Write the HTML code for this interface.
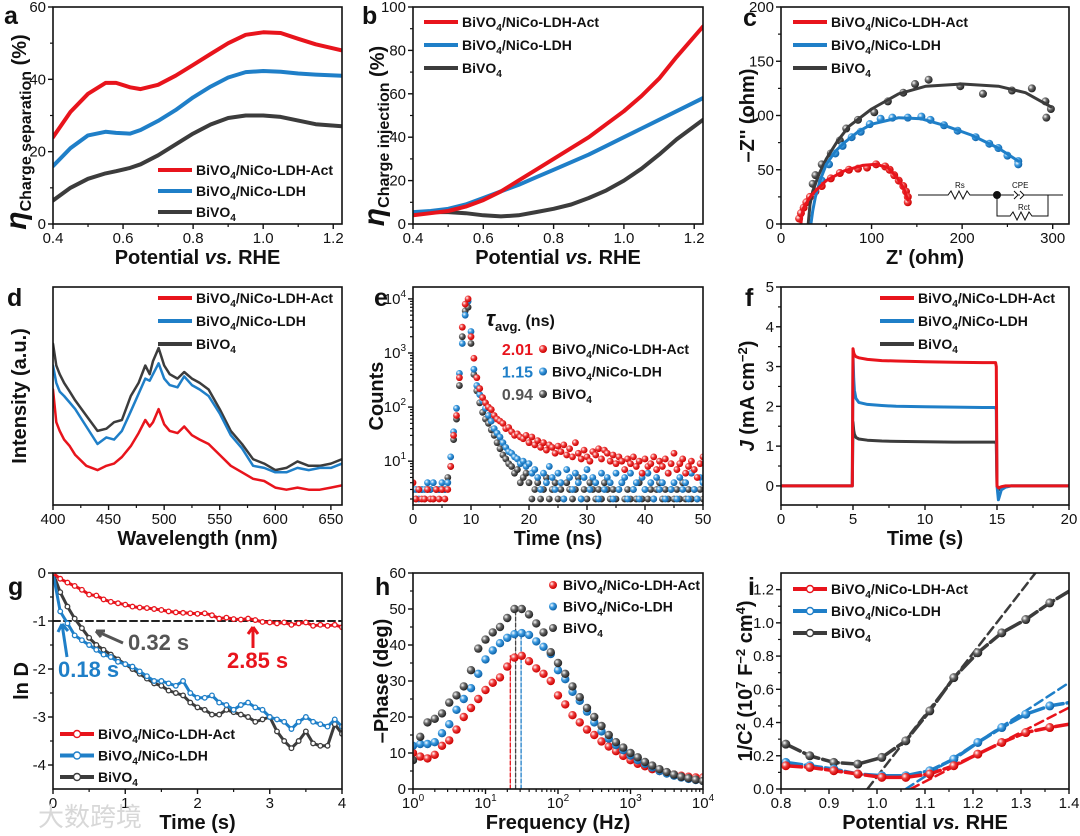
<!DOCTYPE html>
<html><head><meta charset="utf-8"><style>
html,body{margin:0;padding:0;background:#fff;}
svg{display:block;font-family:"Liberation Sans","Noto Sans CJK SC",sans-serif;}
</style></head><body>
<svg id="fig" width="1080" height="836" viewBox="0 0 1080 836" xmlns="http://www.w3.org/2000/svg">
<defs>
<radialGradient id="gr" cx="35%" cy="35%" r="65%"><stop offset="0" stop-color="#fff"/><stop offset="0.45" stop-color="#ee3b3b"/><stop offset="1" stop-color="#c00"/></radialGradient>
<radialGradient id="gb" cx="35%" cy="35%" r="65%"><stop offset="0" stop-color="#fff"/><stop offset="0.45" stop-color="#3a9ae0"/><stop offset="1" stop-color="#0f62a8"/></radialGradient>
<radialGradient id="gk" cx="35%" cy="35%" r="65%"><stop offset="0" stop-color="#fff"/><stop offset="0.45" stop-color="#666"/><stop offset="1" stop-color="#222"/></radialGradient>
</defs>
</svg>
<script>
// ---------- DATA ----------
// a
const aX=[0.4,0.45,0.5,0.55,0.58,0.62,0.65,0.7,0.75,0.8,0.85,0.9,0.95,1.0,1.05,1.1,1.15,1.225];
const aAct=[24,31,36,39,39,37.8,37.3,38.5,41,44,47,50,52.3,53,52.8,51.2,49.7,48];
const aLDH=[16,21,24.5,25.5,25.2,25,26,28.5,31.5,35,38,40.5,42,42.3,42.1,41.6,41.3,41];
const aBi=[6.5,10,12.5,14,14.6,15.5,16.5,19,22,25,27.5,29.3,30,30,29.6,28.6,27.6,27];
// b
const bX=[0.4,0.45,0.5,0.55,0.6,0.65,0.7,0.75,0.8,0.85,0.9,0.95,1.0,1.05,1.1,1.15,1.225];
const bAct=[4,5,6,8,11,15,20,25,30,35,40,46,52,59,67,77,91];
const bLDH=[5.5,6,7,9,12,15,18,21.5,25,28.5,32,36,40,44,48,52,58];
const bBi=[5,5.5,5.5,5,4,3.5,4,5.5,7,9,12,15.5,20,25.5,32,39,48];
// c
const cBiPx=[35,38,45,55,65,72,85,103,118,135,148,163,198,223,255,277,292,298,293];
const cBiPy=[37,45,55,65,77,88,96,103,113,121,129,133,127,120,123,125,113,106,98];
const cBiFx=[30,32,35,42,50,62,75,100,130,160,200,240,270,298];
const cBiFy=[0,18,30,46,60,76,90,106,120,127,129,127,121,108];
const cLdPx=[45,53,60,68,78,88,98,110,123,140,155,165,180,195,215,230,240,250,262,262];
const cLdPy=[40,55,65,72,80,85,92,97,98,98,99,96,91,86,80,74,70,63,58,55];
const cLdFx=[33,35,38,44,50,60,70,85,100,130,155,180,210,240,262];
const cLdFy=[0,12,25,42,55,67,75,85,92,98,97,91,82,70,58];
const cAcPx=[20,22,25,28,32,38,45,55,65,75,85,95,105,115,120,125,130,135,138,140,140];
const cAcPy=[5,10,15,20,25,30,35,42,47,50,51,52,55,53,50,45,40,35,30,25,20];
const cAcFx=[22,23,25,30,35,50,70,90,105,118,128,136,140];
const cAcFy=[0,8,15,22,28,40,49,54,55,52,43,32,22];
// d
const dX=[400,403,406,410,415,420,430,440,448,455,462,470,477,483,487,490,495,500,505,512,518,525,532,540,550,560,570,580,590,600,610,620,630,640,650,660];
const dBi=[74,64,60,56,52,48,41,34,35,38,39,50,56,64,60,66,72,64,60,58,61,58,56,53,44,34,28,21,19,16,17,20,18,18,19,21];
const dLDH=[64,56,52,50,47,44,36,28,31,30,34,43,51,58,57,60,65,58,55,54,59,55,53,50,42,32,26,18,17,15,15,17,16,17,17,19];
const dAct=[53,38,34,30,27,23,18,16,18,19,22,27,33,39,36,38,44,37,34,33,36,32,30,28,23,18,15,12,11,8,7,8,7,7,8,9];
// e (time step 0.5 ns from 0)
const eAct=[4,2,3,2,2,3,2,2,3,2,3,2, 3,8,30,70,350,3000,8000,10000,2000,800,350,220,150,120,100,90,70,60,55,50,40,42,35,30,32,28,26,30,22,28, 20,24,18,22,16,20,18,14,19,15,20,13,17,12,22,14,11,16,12,10,15,13,17,11,16,14,10,13,9,12,10,7,11,9,12,8,10,6,11,8,9,12,7,10,8,11,6,9,14,7,9,11,6,8,10,7,5,9,12];
const eLDH=[3,3,2,3,3,4,3,4,3,3,4,3, 4,12,35,95,420,1500,5000,9000,2500,500,250,170,130,95,70,55,40,33,28,22,18,15,14,12,11,9,10,8,9,6, 7,5,3,6,4,8,5,3,6,4,2,7,5,3,6,4,2,5,7,3,5,4,2,6,3,5,4,2,6,3,4,5,2,6,3,4,2,5,3,6,4,2,5,3,4,2,6,3,4,2,5,3,4,2,6,3,2,5,4];
const eBi=[3,2,3,3,2,3,3,2,3,3,3,3, 5,8,25,60,250,2000,6000,7000,1500,400,200,120,80,60,50,38,30,22,17,13,11,9,8,6,7,4,5,6,4,2, 3,4,2,3,5,2,3,4,2,3,2,4,3,2,3,5,2,3,2,4,3,2,3,2,4,3,2,3,2,3,4,2,3,2,3,2,4,2,3,2,3,2,3,4,2,3,2,3,2,3,2,4,2,3,2,3,2,3,2];
const eTau=["2.01","1.15","0.94"];
// f
const fT=[0,4.95,5,5.05,5.1,5.2,5.4,6,7,8,10,12,14,14.9,14.95,15,15.1,15.3,15.6,16,20];
const fAct=[0,0,3.45,3.35,3.3,3.25,3.22,3.18,3.15,3.14,3.12,3.11,3.1,3.1,3.0,0,-0.05,-0.02,0,0,0];
const fLDH=[0,0,3.3,2.7,2.4,2.2,2.1,2.05,2.02,2.0,1.99,1.98,1.97,1.97,1.9,0,-0.35,-0.1,-0.03,0,0];
const fBi=[0,0,1.6,1.4,1.3,1.22,1.18,1.15,1.13,1.12,1.11,1.1,1.1,1.1,1.05,0,-0.1,-0.04,-0.01,0,0];
// g (time step 0.1 s)
const gAct=[0,-0.12,-0.2,-0.27,-0.35,-0.45,-0.47,-0.55,-0.6,-0.63,-0.66,-0.7,-0.72,-0.73,-0.75,-0.77,-0.8,-0.82,-0.83,-0.84,-0.85,-0.84,-0.88,-0.95,-0.93,-0.96,-0.97,-0.95,-0.98,-1.02,-1.03,-1.05,-1.03,-1.08,-1.05,-1.03,-1.1,-1.08,-1.1,-1.08,-1.13];
const gLDH=[0,-0.8,-1.05,-1.3,-1.4,-1.5,-1.6,-1.7,-1.75,-1.85,-1.9,-1.95,-2.05,-2.15,-2.25,-2.25,-2.3,-2.35,-2.25,-2.5,-2.6,-2.6,-2.55,-2.7,-2.75,-2.85,-2.75,-2.7,-2.8,-2.85,-3.0,-3.05,-3.1,-3.25,-3.1,-3.0,-3.1,-3.15,-3.2,-3.05,-3.2];
const gBi=[0,-0.4,-0.7,-0.95,-1.15,-1.35,-1.5,-1.6,-1.7,-1.8,-1.9,-2.0,-2.1,-2.2,-2.3,-2.35,-2.45,-2.5,-2.55,-2.7,-2.8,-2.85,-2.95,-2.95,-2.85,-2.9,-2.95,-3.0,-3.1,-3.05,-3.0,-3.3,-3.5,-3.65,-3.5,-3.3,-3.55,-3.6,-3.6,-3.15,-3.35];
const gTimes=["0.18 s","0.32 s","2.85 s"];
// h (log10 f step 0.1)
const hAct=[10,9,8.5,9.5,12,13.5,16.5,20,22.5,25,27.5,29.5,31,34,36.5,37,35.5,33.5,32,30,26,23.5,20.5,18.5,16.5,15,13.2,11.8,10.5,9.2,8,7,6.3,5.5,5,4.5,4,3.7,3.4,3.2,3.2];
const hLDH=[12,12.5,12.5,13,15.5,18,22,25,28,32,36,38.5,40.5,42,43,43.3,42.8,41,39.5,37.5,33,30.5,27,24.5,21.5,18.5,16,14,12.2,10.8,9.3,8,7,6,5,4.3,3.7,3.2,2.8,2.5,2.2];
const hBi=[8,14.5,18.5,19.5,21,24,26,28.5,33,39,41.5,43.5,45,47.5,50,50,48.5,46,43.5,38,35,32,28.5,25.5,22.5,20,17.5,15,13,11.5,10,8.8,7.5,6.5,5.5,4.7,4,3.4,3,2.6,2.2];
const hPeak=[22,31,26];
// i
const iX=[0.81,0.86,0.91,0.96,1.01,1.06,1.11,1.16,1.21,1.26,1.31,1.36,1.4];
const iBi=[0.27,0.20,0.16,0.15,0.19,0.29,0.47,0.67,0.82,0.94,1.02,1.12,1.19];
const iLDH=[0.16,0.14,0.12,0.09,0.08,0.08,0.11,0.18,0.28,0.37,0.45,0.50,0.52];
const iAct=[0.14,0.13,0.11,0.09,0.07,0.07,0.09,0.14,0.21,0.28,0.34,0.37,0.39];
const iTanX0=[0.98,1.06,1.07];
const iTanX1=[1.33,1.4,1.4];
const iTanY1=[1.3,0.64,0.49];

// ---------- HELPERS ----------
const NS="http://www.w3.org/2000/svg";
const svg=document.getElementById('fig');
const RED="#e8141c",BLUE="#1f7fc8",BLK="#3c3c3c";
const SUB=(s)=>'<tspan dy="4" font-size="0.72em">'+s+'</tspan><tspan dy="-4">';
const LBL={act:'BiVO'+SUB('4')+'/NiCo-LDH-Act</tspan>',ldh:'BiVO'+SUB('4')+'/NiCo-LDH</tspan>',bi:'BiVO'+SUB('4')+'</tspan>'};
function mk(tag,attrs,parent){const e=document.createElementNS(NS,tag);for(const k in attrs)e.setAttribute(k,attrs[k]);(parent||svg).appendChild(e);return e;}
function txt(x,y,html,attrs,parent){const t=mk('text',Object.assign({x:x,y:y,fill:'#111'},attrs||{}),parent);t.innerHTML=html;return t;}
let clipN=0;
function axes(p){
  p.fx=v=>p.xlog?Math.log10(v):v; p.fy=v=>p.ylog?Math.log10(v):v;
  p.sx=v=>p.L+(p.fx(v)-p.xmin)/(p.xmax-p.xmin)*(p.R-p.L);
  p.sy=v=>p.B-(p.fy(v)-p.ymin)/(p.ymax-p.ymin)*(p.B-p.T);
  const g=mk('g',{});
  
  
  p.g=g;
  const id='clip'+(clipN++);
  const cp=mk('clipPath',{id:id},g);mk('rect',{x:p.L,y:p.T,width:p.R-p.L,height:p.B-p.T},cp);
  p.plot=mk('g',{'clip-path':'url(#'+id+')'},g);
  
  
  const ax=mk('g',{},g);
  
  
  p.ax=ax;
  return p;
}
function frame(p){
  const ax=p.ax;
  mk('rect',{x:p.L,y:p.T,width:p.R-p.L,height:p.B-p.T,fill:'none',stroke:'#111','stroke-width':1.6},ax);
  (p.xt||[]).forEach((v,i)=>{const x=p.sx(v);mk('line',{x1:x,x2:x,y1:p.B,y2:p.B+5,stroke:'#111','stroke-width':1.4},ax);
    const t=txt(x,p.B+19,(p.xl?p.xl[i]:String(v)),{'font-size':15,'text-anchor':'middle'},ax);
    
    });
  (p.xm||[]).forEach(v=>{const x=p.sx(v);mk('line',{x1:x,x2:x,y1:p.B,y2:p.B+3,stroke:'#111','stroke-width':1.2},ax);});
  (p.yt||[]).forEach((v,i)=>{const y=p.sy(v);mk('line',{x1:p.L-5,x2:p.L,y1:y,y2:y,stroke:'#111','stroke-width':1.4},ax);
    const t=txt(p.L-7,y+5,(p.yl?p.yl[i]:String(v)),{'font-size':15,'text-anchor':'end'},ax);
    
    });
  (p.ym||[]).forEach(v=>{const y=p.sy(v);mk('line',{x1:p.L-3,x2:p.L,y1:y,y2:y,stroke:'#111','stroke-width':1.2},ax);});
  const xt=txt((p.L+p.R)/2,p.B+40,p.xtitle,{'font-size':20,'font-weight':'bold','text-anchor':'middle'},ax);
  
  
  const cy=p.ycy||(p.T+p.B)/2;
  const yt=txt(p.ytx,cy,p.ytitle,{'font-size':20,'font-weight':'bold','text-anchor':'middle',transform:'rotate(-90 '+p.ytx+' '+cy+')'},ax);
  
  
  const lt=txt(p.lx,p.ly,p.name,{'font-size':25,'font-weight':'bold'},ax);
  
  
}
function line(p,xs,ys,color,w,dash,name){
  let d='';const n=Math.min(xs.length,ys.length);
  for(let i=0;i<n;i++)d+=(i?'L':'M')+p.sx(xs[i]).toFixed(1)+','+p.sy(ys[i]).toFixed(1);
  const e=mk('path',{d:d,fill:'none',stroke:color,'stroke-width':w,'stroke-linejoin':'round','stroke-linecap':'round'},p.plot);
  if(dash)e.setAttribute('stroke-dasharray',dash);
  
  
  return e;
}
function dots(p,xs,ys,grad,r,name,open,color){
  const g=mk('g',{},p.plot);
  
  
  const n=Math.min(xs.length,ys.length);
  for(let i=0;i<n;i++){
    if(open)mk('circle',{cx:p.sx(xs[i]),cy:p.sy(ys[i]),r:r,fill:'#fff',stroke:color,'stroke-width':1.3},g);
    else mk('circle',{cx:p.sx(xs[i]),cy:p.sy(ys[i]),r:r,fill:'url(#'+grad+')'},g);
  }
  return g;
}
function legend(p,x,y0,dy,items,kind){
  const g=mk('g',{},p.g);
  
  
  items.forEach((it,i)=>{
    const y=y0+i*dy;
    const eg=mk('g',{},g);
    
    
    if(kind==='dot'){mk('circle',{cx:x+6,cy:y,r:4,fill:'url(#'+it.g+')'},eg);txt(x+16,y+5,it.t,{'font-size':14,'font-weight':'bold'},eg);}
    else{mk('line',{x1:x,x2:x+34,y1:y,y2:y,stroke:it.c,'stroke-width':4},eg);
      if(kind==='mark')mk('circle',{cx:x+17,cy:y,r:3.5,fill:'#fff',stroke:it.c,'stroke-width':1.4},eg);
      txt(x+38,y+5,it.t,{'font-size':14,'font-weight':'bold'},eg);}
  });
}
const L3=[{c:RED,g:'gr',t:LBL.act},{c:BLUE,g:'gb',t:LBL.ldh},{c:BLK,g:'gk',t:LBL.bi}];
const C1={L:53,R:342},C2={L:413,R:703},C3={L:781,R:1069};
const R1={T:7,B:224},R2={T:287,B:505},R3={T:573,B:789};
function P(c,r,o){return axes(Object.assign({},c,r,o));}
const VS='Potential <tspan font-style="italic">vs.</tspan> RHE';

// ---------- a ----------
let a=P(C1,R1,{name:'a',xmin:0.4,xmax:1.225,ymin:0,ymax:60,xt:[0.4,0.6,0.8,1.0,1.2],xl:['0.4','0.6','0.8','1.0','1.2'],xm:[0.5,0.7,0.9,1.1],yt:[0,20,40,60],ym:[10,30,50],
 xtitle:VS,ytitle:'<tspan font-size="30" font-style="italic">η</tspan><tspan dy="5" font-size="16">Charge separation</tspan><tspan dy="-5"> (%)</tspan>',ytx:26,ycy:132,lx:4,ly:24});
line(a,aX,aBi,BLK,4,null,'series-bivo4');line(a,aX,aLDH,BLUE,4,null,'series-nico-ldh');line(a,aX,aAct,RED,4,null,'series-nico-ldh-act');
frame(a);legend(a,158,170,21,L3,'line');

// ---------- b ----------
let b=P(C2,R1,{name:'b',xmin:0.4,xmax:1.225,ymin:0,ymax:100,xt:[0.4,0.6,0.8,1.0,1.2],xl:['0.4','0.6','0.8','1.0','1.2'],xm:[0.5,0.7,0.9,1.1],yt:[0,20,40,60,80,100],ym:[10,30,50,70,90],
 xtitle:VS,ytitle:'<tspan font-size="30" font-style="italic">η</tspan><tspan dy="5" font-size="16">Charge injection</tspan><tspan dy="-5"> (%)</tspan>',ytx:384,ycy:136,lx:362,ly:24});
line(b,bX,bBi,BLK,4,null,'series-bivo4');line(b,bX,bLDH,BLUE,4,null,'series-nico-ldh');line(b,bX,bAct,RED,4,null,'series-nico-ldh-act');
frame(b);legend(b,424,22,23,L3,'line');

// ---------- c ----------
let c=P(C3,R1,{name:'c',xmin:0,xmax:318,ymin:0,ymax:200,xt:[0,100,200,300],xm:[50,150,250],yt:[0,50,100,150,200],ym:[25,75,125,175],
 xtitle:"Z' (ohm)",ytitle:"–Z'' (ohm)",ytx:754,lx:743,ly:26});
dots(c,cBiPx,cBiPy,'gk',4,'points-bivo4');dots(c,cLdPx,cLdPy,'gb',4,'points-nico-ldh');dots(c,cAcPx,cAcPy,'gr',4,'points-nico-ldh-act');
line(c,cBiFx,cBiFy,BLK,3,null,'fit-bivo4');line(c,cLdFx,cLdFy,BLUE,3,null,'fit-nico-ldh');line(c,cAcFx,cAcFy,RED,3,null,'fit-nico-ldh-act');
frame(c);legend(c,793,22,23,L3,'line');
(function(){const g=mk('g',{stroke:'#111','stroke-width':1,fill:'none'},c.g);
 
 
 mk('path',{d:'M918,195 L948,195 l3,-4 l4,8 l4,-8 l4,8 l4,-8 l3,4 L1063,195 M997,195 L997,216 L1010,216 l3,-4 l4,8 l4,-8 l4,8 l4,-8 l3,4 L1048,216 L1048,195'},g);
 mk('circle',{cx:997,cy:195,r:3.5,fill:'#111'},g);
 mk('path',{d:'M1014,191 l4,4 l-4,4 M1020,191 l4,4 l-4,4',fill:'#fff'},g);
 txt(955,188,'Rs',{'font-size':8,stroke:'none'},g);txt(1012,188,'CPE',{'font-size':8,stroke:'none'},g);txt(1018,210,'Rct',{'font-size':8,stroke:'none'},g);})();

// ---------- d ----------
let d=P(C1,R2,{name:'d',xmin:400,xmax:660,ymin:0,ymax:100,xt:[400,450,500,550,600,650],xm:[425,475,525,575,625],
 xtitle:'Wavelength (nm)',ytitle:'Intensity (a.u.)',ytx:26,lx:7,ly:306});
line(d,dX,dBi,BLK,2.5,null,'series-bivo4');line(d,dX,dLDH,BLUE,2.5,null,'series-nico-ldh');line(d,dX,dAct,RED,2.5,null,'series-nico-ldh-act');
frame(d);legend(d,158,298,23,L3,'line');

// ---------- e ----------
let e=P(C2,R2,{name:'e',xmin:0,xmax:50,ymin:0.19,ymax:4.22,ylog:true,xt:[0,10,20,30,40,50],xm:[5,15,25,35,45],yt:[10,100,1000,10000],
 yl:['10'+'<tspan dy="-7" font-size="10">1</tspan>','10<tspan dy="-7" font-size="10">2</tspan>','10<tspan dy="-7" font-size="10">3</tspan>','10<tspan dy="-7" font-size="10">4</tspan>'],
 ym:[2,3,4,5,6,7,8,9,20,30,40,50,60,70,80,90,200,300,400,500,600,700,800,900,2000,3000,4000,5000,6000,7000,8000,9000],
 xtitle:'Time (ns)',ytitle:'Counts',ytx:383,lx:374,ly:306});
const eT=eAct.map((_,i)=>i*0.5);
dots(e,eT,eBi,'gk',3.4,'points-bivo4');dots(e,eT,eLDH,'gb',3.4,'points-nico-ldh');dots(e,eT,eAct,'gr',3.4,'points-nico-ldh-act');
frame(e);
(function(){const g=mk('g',{},e.g);
 
 
 txt(486,326,'<tspan font-style="italic" font-size="22">τ</tspan><tspan dy="5" font-size="13">avg.</tspan><tspan dy="-5"> (ns)</tspan>',{'font-size':16,'font-weight':'bold'},g);
 const cols=[RED,BLUE,'#555'],gr=['gr','gb','gk'],lb=[LBL.act,LBL.ldh,LBL.bi];
 for(let i=0;i<3;i++){const y=349+i*22.5;
  txt(533,y+6,eTau[i],{'font-size':16,'font-weight':'bold','text-anchor':'end',fill:cols[i]},g);
  mk('circle',{cx:543,cy:y,r:4,fill:'url(#'+gr[i]+')'},g);
  txt(552,y+5,lb[i],{'font-size':14,'font-weight':'bold'},g);}})();

// ---------- f ----------
let f=P(C3,R2,{name:'f',xmin:0,xmax:20,ymin:-0.48,ymax:5,xt:[0,5,10,15,20],xm:[2.5,7.5,12.5,17.5],yt:[0,1,2,3,4,5],ym:[0.5,1.5,2.5,3.5,4.5],
 xtitle:'Time (s)',ytitle:'<tspan font-style="italic">J</tspan> (mA cm<tspan dy="-7" font-size="13">−2</tspan><tspan dy="7">)</tspan>',ytx:754,lx:745,ly:306});
line(f,fT,fBi,BLK,3,null,'series-bivo4');line(f,fT,fLDH,BLUE,3,null,'series-nico-ldh');line(f,fT,fAct,RED,3,null,'series-nico-ldh-act');
frame(f);legend(f,880,298,23,L3,'line');

// ---------- g ----------
let g=P(C1,R3,{name:'g',xmin:0,xmax:4,ymin:-4.5,ymax:0,xt:[0,1,2,3,4],xm:[0.5,1.5,2.5,3.5],yt:[0,-1,-2,-3,-4],ym:[-0.5,-1.5,-2.5,-3.5],
 xtitle:'Time (s)',ytitle:'ln D',ytx:28,lx:8,ly:595});
const gT=gAct.map((_,i)=>i*0.1);
line(g,[0,4],[-1,-1],'#222',2,'7,4','reference-line');
line(g,gT,gBi,BLK,3,null,'series-bivo4');dots(g,gT,gBi,null,2.3,'markers-bivo4',true,BLK);
line(g,gT,gLDH,BLUE,3,null,'series-nico-ldh');dots(g,gT,gLDH,null,2.3,'markers-nico-ldh',true,BLUE);
line(g,gT,gAct,RED,3,null,'series-nico-ldh-act');dots(g,gT,gAct,null,2.3,'markers-nico-ldh-act',true,RED);
frame(g);legend(g,60,734,21.5,L3,'mark');
(function(){const gg=mk('g',{},g.g);
 
 
 mk('path',{d:'M123,643 L96,631 M96,631 l9,0 M96,631 l5,6',stroke:'#555','stroke-width':3,fill:'none'},gg);
 mk('path',{d:'M67,657 L62,624 M62,624 l-4,8 M62,624 l6,7',stroke:BLUE,'stroke-width':3,fill:'none'},gg);
 mk('path',{d:'M253,648 L253,627 M253,627 l-5,7 M253,627 l5,7',stroke:RED,'stroke-width':3,fill:'none'},gg);
 txt(128,650,gTimes[1],{'font-size':22,'font-weight':'bold',fill:'#555'},gg);
 txt(58,677,gTimes[0],{'font-size':22,'font-weight':'bold',fill:BLUE},gg);
 txt(227,668,gTimes[2],{'font-size':22,'font-weight':'bold',fill:RED},gg);})();

// ---------- h ----------
const hm=[];for(let k=0;k<4;k++)for(let m=2;m<10;m++)hm.push(m*Math.pow(10,k));
let h=P(C2,R3,{name:'h',xmin:0,xmax:4,xlog:true,ymin:0,ymax:60,xt:[1,10,100,1000,10000],
 xl:[0,1,2,3,4].map(k=>'10<tspan dy="-7" font-size="10">'+k+'</tspan>'),xm:hm,yt:[0,10,20,30,40,50,60],ym:[5,15,25,35,45,55],
 xtitle:'Frequency (Hz)',ytitle:'–Phase (deg)',ytx:388,lx:375,ly:595});
const hF=hAct.map((_,i)=>Math.pow(10,i*0.1));
const hc=[RED,BLUE,'#444'];
hPeak.forEach((v,i)=>{line(h,[v,v],[0,[37,43.3,50][i]],hc[i],1.3,'4,2','peak-marker');});
dots(h,hF,hAct,'gr',4.2,'points-nico-ldh-act');dots(h,hF,hLDH,'gb',4.2,'points-nico-ldh');dots(h,hF,hBi,'gk',4.2,'points-bivo4');
frame(h);legend(h,547,585,21.5,L3,'dot');

// ---------- i ----------
let iP=P(C3,R3,{name:'i',xmin:0.8,xmax:1.4,ymin:0,ymax:1.3,xt:[0.8,0.9,1.0,1.1,1.2,1.3,1.4],xl:['0.8','0.9','1.0','1.1','1.2','1.3','1.4'],xm:[0.85,0.95,1.05,1.15,1.25,1.35],
 yt:[0,0.2,0.4,0.6,0.8,1.0,1.2],yl:['0.0','0.2','0.4','0.6','0.8','1.0','1.2'],ym:[0.1,0.3,0.5,0.7,0.9,1.1],
 xtitle:VS,ytitle:'1/C<tspan dy="-7" font-size="13">2</tspan><tspan dy="7"> (10</tspan><tspan dy="-7" font-size="13">7</tspan><tspan dy="7"> F</tspan><tspan dy="-7" font-size="13">−2</tspan><tspan dy="7"> cm</tspan><tspan dy="-7" font-size="13">4</tspan><tspan dy="7">)</tspan>',ytx:752,lx:748,ly:595});
const iCols=[BLK,BLUE,RED];
[iBi,iLDH,iAct].forEach((s,k)=>{line(iP,[iTanX0[k],iTanX1[k]],[0,iTanY1[k]],iCols[k],2.5,'9,5','tangent-'+['bivo4','nico-ldh','nico-ldh-act'][k]);});
line(iP,iX,iBi,BLK,3.5,'16,4','series-bivo4');dots(iP,iX.slice(0,12),iBi,'gk',4.5,'markers-bivo4');
line(iP,iX,iLDH,BLUE,3.5,'16,4','series-nico-ldh');dots(iP,iX.slice(0,12),iLDH,'gb',4.5,'markers-nico-ldh');
line(iP,iX,iAct,RED,3.5,'16,4','series-nico-ldh-act');dots(iP,iX.slice(0,12),iAct,'gr',4.5,'markers-nico-ldh-act');
frame(iP);legend(iP,793,589,22,L3,'mark');

// watermark
const wm=txt(38,826,'大数跨境',{'font-size':26,fill:'#d8d8d8','font-family':'"Noto Sans CJK SC",sans-serif'});


</script>
</body></html>
